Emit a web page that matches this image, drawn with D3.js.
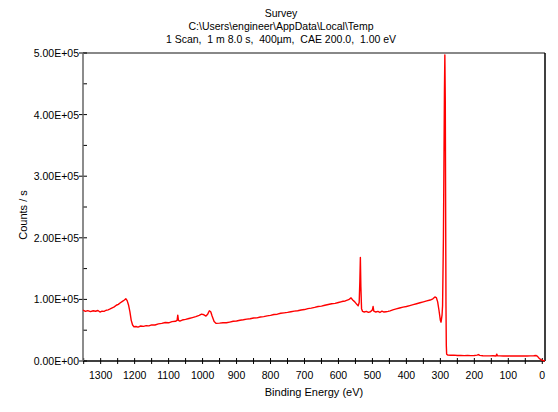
<!DOCTYPE html>
<html>
<head>
<meta charset="utf-8">
<script src="https://cdn.jsdelivr.net/npm/d3@7"></script>
<style>
  body { margin: 0; background: #fff; }
  svg { display: block; font-family: "Liberation Sans", Arial, sans-serif; }
  .title { white-space: pre; }
</style>
</head>
<body>
<svg id="chart" width="558" height="412"></svg>
<script>
// title lines, top to bottom
const titleLines = [
  "Survey",
  "C:\\Users\\engineer\\AppData\\Local\\Temp",
  "1 Scan,  1 m 8.0 s,  400\u00b5m,  CAE 200.0,  1.00 eV"
];

// spectrum (binding energy in eV, counts / s)
const bindingEnergy = [
  1352, 1345, 1338, 1330, 1322, 1315, 1308, 1302, 1296, 1290, 1284, 1278, 1272, 1266, 1260,
  1254, 1248, 1242, 1236, 1230, 1226, 1222, 1218, 1214, 1210, 1206, 1202, 1196, 1190, 1182,
  1174, 1166, 1158, 1150, 1140, 1130, 1120, 1110, 1100, 1090, 1080, 1075, 1073, 1071, 1067,
  1060, 1050, 1040, 1030, 1020, 1010, 1003, 996, 990, 985, 980, 976, 972, 966, 960,
  950, 940, 930, 920, 910, 900, 890, 880, 870, 860, 850, 840, 830, 820, 810,
  800, 790, 780, 770, 760, 750, 740, 730, 720, 710, 700, 690, 680, 670, 660,
  650, 640, 630, 620, 610, 600, 590, 580, 570, 563, 558, 552, 546, 542, 539,
  537, 535.5, 534, 532, 529, 524, 518, 512, 506, 500, 498, 496, 490, 484, 478,
  472, 466, 460, 454, 448, 440, 430, 420, 410, 400, 390, 380, 370, 360, 350,
  340, 330, 322, 316, 312, 308, 304, 300, 298, 295, 293.5, 291, 289.5, 288, 286.8,
  285.5, 284.5, 283.5, 282.5, 281.5, 278, 270, 260, 250, 240, 230, 220, 210, 200, 192,
  188, 184, 175, 165, 155, 145, 136, 134, 132, 125, 115, 105, 95, 85, 75,
  65, 55, 45, 35, 25, 18, 14, 10, 6, 2, -2, -8
];
const counts = [
  82500, 80500, 81800, 80200, 81500, 80800, 82000, 79500, 81000, 80600, 82400, 83000, 84500, 86200, 87800,
  90500, 92000, 94500, 96800, 99000, 101000, 98000, 91000, 80000, 66000, 58500, 55500, 56000, 55000, 56800,
  56200, 57500, 57000, 58600, 58500, 60200, 61000, 62500, 62000, 64000, 64500, 66000, 74500, 66000, 64800,
  66500, 67500, 69000, 70500, 72000, 74000, 76000, 75000, 73000, 76000, 81500, 80000, 73000, 64000, 61000,
  61500, 62200, 62000, 63200, 64500, 65000, 66200, 67000, 68000, 68500, 69800, 70000, 71500, 72000, 73200,
  74000, 75500, 76000, 77500, 78200, 79000, 80000, 81000, 81500, 82800, 83500, 85000, 85800, 87000, 88500,
  89000, 90500, 91800, 93000, 93500, 95000, 96500, 97500, 99500, 102500, 99000, 96000, 92000, 89500, 95000,
  130000, 168000, 120000, 85000, 80500, 79500, 80500, 79000, 80000, 83000, 88500, 81000, 79500, 80500, 78800,
  81000, 79500, 80000, 80500, 81500, 83000, 84500, 86000, 87500, 88500, 90000, 91500, 93000, 94500, 96000,
  97500, 99000, 101000, 104000, 103000, 96000, 82000, 66000, 63000, 75000, 90000, 200000, 320000, 440000, 497000,
  420000, 250000, 90000, 25000, 11000, 9600, 9300, 9500, 9000, 9200, 8800, 9000, 8700, 8900, 9600,
  10500, 9200, 8600, 8400, 8300, 8500, 8200, 11200, 8400, 8300, 8100, 8400, 8200, 8000, 8300,
  8000, 8100, 8200, 8300, 8500, 9000, 7500, 5000, 3000, 1600, 800, 500
];

const xTickValues = [1300, 1200, 1100, 1000, 900, 800, 700, 600, 500, 400, 300, 200, 100, 0];
const yTickValues = [0, 100000, 200000, 300000, 400000, 500000];

const svg = d3.select("#chart");
const plotLeft = 83, plotRight = 545, plotTop = 53, plotBottom = 361;

const x = d3.scaleLinear().domain([1352, -8]).range([plotLeft, plotRight]);
const y = d3.scaleLinear().domain([0, 500000]).range([plotBottom, plotTop]);

// "5.00E+05" style labels
function sci(v) {
  if (v === 0) return "0.00E+00";
  const e = Math.floor(Math.log10(v));
  const m = v / Math.pow(10, e);
  return m.toFixed(2) + "E+" + String(e).padStart(2, "0");
}

// titles
svg.selectAll("text.title")
  .data(titleLines)
  .join("text")
  .attr("class", "title")
  .attr("x", 281)
  .attr("y", (d, i) => 17 + i * 13)
  .attr("text-anchor", "middle")
  .attr("font-size", 10.5)
  .attr("fill", "#000")
  .text(d => d);

// frame: top gray, right black
svg.append("line").attr("x1", plotLeft).attr("x2", plotRight).attr("y1", plotTop).attr("y2", plotTop)
  .attr("stroke", "#888").attr("stroke-width", 2);
svg.append("line").attr("x1", plotRight).attr("x2", plotRight).attr("y1", plotTop).attr("y2", plotBottom)
  .attr("stroke", "#000").attr("stroke-width", 1.5);

// x axis minor + major ticks every 50 eV
const xMinor = d3.range(1350, -1, -50);
svg.append("g").selectAll("line")
  .data(xMinor)
  .join("line")
  .attr("x1", d => x(d)).attr("x2", d => x(d))
  .attr("y1", plotBottom - 3).attr("y2", plotBottom + 3)
  .attr("stroke", "#000");
svg.append("line").attr("x1", plotLeft).attr("x2", plotRight).attr("y1", plotBottom).attr("y2", plotBottom)
  .attr("stroke", "#000").attr("stroke-width", 1.5);
svg.append("g").selectAll("text")
  .data(xTickValues)
  .join("text")
  .attr("x", d => x(d))
  .attr("y", 379)
  .attr("text-anchor", "middle")
  .attr("font-size", 10.5)
  .text(d => d);

// y axis
const yMinor = d3.range(50000, 500000, 100000);
svg.append("g").selectAll("line")
  .data(yMinor)
  .join("line")
  .attr("x1", plotLeft).attr("x2", plotLeft + 4)
  .attr("y1", d => y(d)).attr("y2", d => y(d))
  .attr("stroke", "#000");
svg.append("g").selectAll("line")
  .data(yTickValues)
  .join("line")
  .attr("x1", plotLeft - 4).attr("x2", plotLeft + 4)
  .attr("y1", d => y(d)).attr("y2", d => y(d))
  .attr("stroke", "#000");
svg.append("line").attr("x1", plotLeft).attr("x2", plotLeft).attr("y1", plotTop).attr("y2", plotBottom)
  .attr("stroke", "#666").attr("stroke-width", 1.5);
svg.append("g").selectAll("text")
  .data(yTickValues)
  .join("text")
  .attr("x", plotLeft - 4)
  .attr("y", d => y(d) + 4)
  .attr("text-anchor", "end")
  .attr("font-size", 10.5)
  .text(d => sci(d));

// axis titles
svg.append("text")
  .attr("x", 314).attr("y", 396)
  .attr("text-anchor", "middle")
  .attr("font-size", 11)
  .text("Binding Energy (eV)");
svg.append("text")
  .attr("transform", "translate(27,215) rotate(-90)")
  .attr("text-anchor", "middle")
  .attr("font-size", 11)
  .text("Counts / s");

// spectrum
const pts = bindingEnergy.map((e, i) => [e, counts[i]]);
const line = d3.line().x(d => x(d[0])).y(d => y(d[1]));
svg.append("path")
  .datum(pts)
  .attr("fill", "none")
  .attr("stroke", "#ff0000")
  .attr("stroke-width", 1.4)
  .attr("stroke-linejoin", "round")
  .attr("d", line);
</script>
</body>
</html>
